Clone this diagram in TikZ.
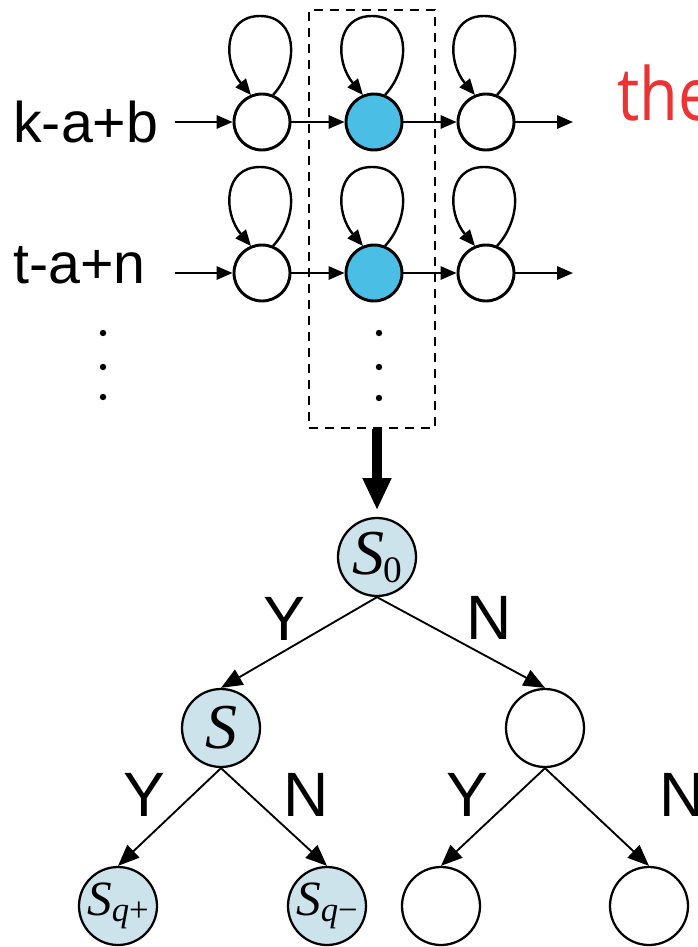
\documentclass[tikz,border=0pt]{standalone}
\usepackage{graphicx}
\usepackage{fontspec}
\setmainfont{Liberation Sans}
\newfontfamily\serifit{Liberation Serif}
\newfontfamily\notefont{Open Sans}
\usetikzlibrary{arrows.meta,calc}
\definecolor{hmmblue}{HTML}{4BBEE6}
\definecolor{treeblue}{HTML}{CCE3EC}
\definecolor{notered}{HTML}{EC3232}
% self transition drawn above a chain state
\newcommand\loopover[1]{%
  \draw[selfloop] ($(#1.center)+(11,-27)$)
    .. controls ($(#1.center)+(37,-55)$) and ($(#1.center)+(37,-106)$) .. ($(#1.center)+(-2,-106)$)
    .. controls ($(#1.center)+(-39,-106)$) and ($(#1.center)+(-39,-60)$) .. ($(#1.center)+(-11,-27)$);}
\begin{document}
\begin{tikzpicture}[x=0.75pt,y=-0.75pt,
  state/.style={circle,draw,line width=2.2pt,minimum size=42pt,inner sep=0pt,fill=white},
  tstate/.style={circle,draw,line width=1.7pt,minimum size=58.5pt,inner sep=0pt,fill=white},
  flow/.style={line width=1.6pt,-{Triangle[length=12pt,width=10pt]}},
  branch/.style={line width=1.4pt,-{Triangle[length=16pt,width=13pt]}},
  selfloop/.style={line width=1.8pt,-{Triangle[length=12pt,width=10pt]}},
  yn/.style={font=\fontsize{47}{50}\selectfont,inner sep=0pt},
  rowlab/.style={font=\fontsize{43}{46}\selectfont,anchor=base west,inner sep=0pt},
  vdot/.style={circle,fill,inner sep=0pt,minimum size=4.8pt}
]
\useasboundingbox (0,0) rectangle (698,947);
\clip (0,0) rectangle (698,947);

% sliding window over the chains
\node (win) [draw,line width=1.5pt,dash pattern=on 7pt off 5pt,
  minimum width=94.5pt,minimum height=313.5pt,inner sep=0pt] at (372,219) {};

% first chain
\node[rowlab] (lab1) at (13,142) {k-a+b};
\coordinate (in1) at (175,122);
\node[state] (a1) at (262,122) {};
\node[state,fill=hmmblue] (b1) at (374,122) {};
\node[state] (c1) at (486,122) {};
\coordinate (out1) at (573,122);
\draw[flow] (in1) -- (a1);
\draw[flow] (a1) -- (b1);
\draw[flow] (b1) -- (c1);
\draw[flow] (c1) -- (out1);
\loopover{a1}\loopover{b1}\loopover{c1}

% second chain
\node[rowlab] (lab2) at (13,283) {t-a+n};
\coordinate (in2) at (175,273);
\node[state] (a2) at (262,273) {};
\node[state,fill=hmmblue] (b2) at (374,273) {};
\node[state] (c2) at (486,273) {};
\coordinate (out2) at (573,273);
\draw[flow] (in2) -- (a2);
\draw[flow] (a2) -- (b2);
\draw[flow] (b2) -- (c2);
\draw[flow] (c2) -- (out2);
\loopover{a2}\loopover{b2}\loopover{c2}

% continuation dots
\node[vdot] (ld1) at (103,333) {};
\node[vdot] (ld2) at (103,367) {};
\node[vdot] (ld3) at (103,397) {};
\node[vdot] (wd1) at (379,333) {};
\node[vdot] (wd2) at (379,367) {};
\node[vdot] (wd3) at (379,398) {};

% red note text
\node[anchor=base west,inner sep=0pt,text=notered,font=\notefont\fontsize{55}{58}\selectfont] (note) at (617,120) {\scalebox{0.86}[1]{the}};

% decision tree
\node[tstate,fill=treeblue] (s0) at (377,557)
  {\serifit\fontsize{48}{48}\selectfont\itshape S\kern-1pt\raisebox{-6pt}{\upshape\fontsize{28}{28}\selectfont 0}};
\node[tstate,fill=treeblue] (s) at (221,728)
  {\serifit\fontsize{48}{48}\selectfont\itshape S};
\node[tstate] (r) at (545,728) {};
\node[tstate,fill=treeblue] (sqp) at (118,906)
  {\serifit\fontsize{37}{37}\selectfont\itshape S\raisebox{-4pt}{\fontsize{26}{26}\selectfont q\upshape+}};
\node[tstate,fill=treeblue] (sqm) at (327,906)
  {\serifit\fontsize{37}{37}\selectfont\itshape S\raisebox{-4pt}{\fontsize{26}{26}\selectfont q\upshape−}};
\node[tstate] (rl) at (441,906) {};
\node[tstate] (rr) at (649,906) {};

\draw[line width=7.5pt,-{Triangle[length=24pt,width=20pt]},shorten >=5pt] (s0 |- win.south) -- (s0.north);

\draw[branch] (s0.south) -- (s.north);
\draw[branch] (s0.south) -- (r.north);
\draw[branch] (s.south) -- (sqp.north);
\draw[branch] (s.south) -- (sqm.north);
\draw[branch] (r.south) -- (rl.north);
\draw[branch] (r.south) -- (rr.north);

\node[yn] (y0) at (284,619) {Y};
\node[yn] (n0) at (489,618) {N};
\node[yn] (y1) at (144,795) {Y};
\node[yn] (n1) at (306,795) {N};
\node[yn] (y2) at (467,795) {Y};
\node[yn] (n2) at (682,795) {N};
\end{tikzpicture}
\end{document}
